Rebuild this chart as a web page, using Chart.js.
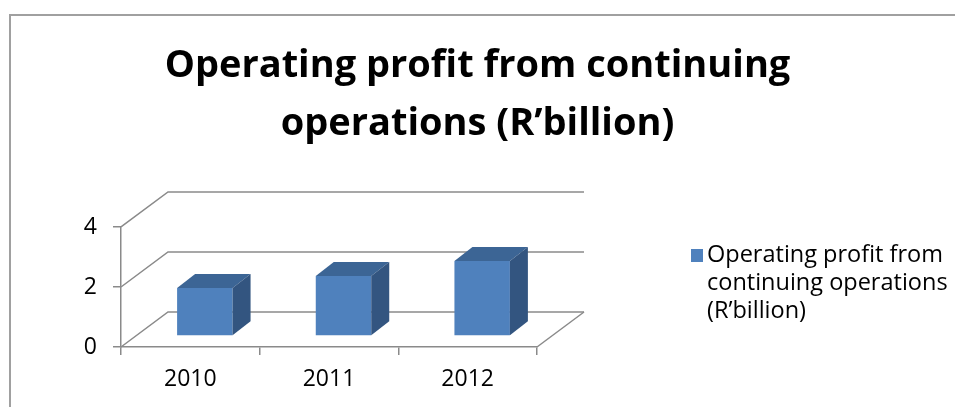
<!DOCTYPE html>
<html>
<head>
<meta charset="utf-8">
<script src="https://cdn.jsdelivr.net/npm/chart.js@4.4.0/dist/chart.umd.min.js"></script>
<style>
  html, body { margin: 0; padding: 0; background: #fff; }
  #profitChart { display: block; }
</style>
</head>
<body>
<canvas id="profitChart" width="955" height="407"></canvas>
<script>
var years = ['2010', '2011', '2012'];
var profit = [1.6, 2.0, 2.5];
var yTicks = [0, 2, 4];
var seriesLabel = 'Operating profit from continuing operations (R’billion)';
var titleLines = ['Operating profit from continuing', 'operations (R’billion)'];

var axisGrey = '#8a8a8a';
var barFront = '#4f81bd';
var barTop = '#3c6595';
var barSide = '#335580';

// oblique offsets for the 3-D look
var wallDepth = { x: 47, y: -35 };
var barShift = { x: 14.5, y: -11 };
var barDepth = { x: 18, y: -14 };

Chart.defaults.font.family = '"Open Sans"';

// outer frame
var framePlugin = {
  id: 'frame',
  beforeDraw: function (chart) {
    var ctx = chart.ctx;
    ctx.save();
    ctx.fillStyle = '#fff';
    ctx.fillRect(0, 0, chart.width, chart.height);
    ctx.strokeStyle = '#a0a0a0';
    ctx.lineWidth = 2;
    ctx.beginPath();
    ctx.moveTo(10, chart.height);
    ctx.lineTo(10, 15);
    ctx.lineTo(chart.width, 15);
    ctx.stroke();
    ctx.restore();
  }
};

// back wall, side wall and floor lines, then bars pushed back into the box
var boxPlugin = {
  id: 'box3d',
  beforeDatasetsDraw: function (chart) {
    var ctx = chart.ctx;
    var y = chart.scales.y;
    var left = chart.chartArea.left, right = chart.chartArea.right;
    ctx.save();
    ctx.strokeStyle = axisGrey;
    ctx.lineWidth = 1.5;
    yTicks.forEach(function (v) {
      var py = y.getPixelForValue(v);
      ctx.beginPath();
      ctx.moveTo(left, py);
      ctx.lineTo(left + wallDepth.x, py + wallDepth.y);
      ctx.lineTo(right + wallDepth.x, py + wallDepth.y);
      ctx.stroke();
    });
    var y0 = y.getPixelForValue(0);
    ctx.beginPath();
    ctx.moveTo(right, y0);
    ctx.lineTo(right + wallDepth.x, y0 + wallDepth.y);
    ctx.stroke();
    ctx.restore();

    ctx.save();
    ctx.translate(barShift.x, barShift.y);
  },
  afterDatasetsDraw: function (chart) {
    var ctx = chart.ctx;
    ctx.restore();
    ctx.save();
    chart.getDatasetMeta(0).data.forEach(function (bar) {
      var p = bar.getProps(['x', 'y', 'base', 'width'], true);
      var l = p.x - p.width / 2 + barShift.x;
      var r = p.x + p.width / 2 + barShift.x;
      var t = p.y + barShift.y;
      var b = p.base + barShift.y;
      ctx.fillStyle = barTop;
      ctx.beginPath();
      ctx.moveTo(l, t);
      ctx.lineTo(l + barDepth.x, t + barDepth.y);
      ctx.lineTo(r + barDepth.x, t + barDepth.y);
      ctx.lineTo(r, t);
      ctx.closePath();
      ctx.fill();
      ctx.fillStyle = barSide;
      ctx.beginPath();
      ctx.moveTo(r, t);
      ctx.lineTo(r + barDepth.x, t + barDepth.y);
      ctx.lineTo(r + barDepth.x, b + barDepth.y);
      ctx.lineTo(r, b);
      ctx.closePath();
      ctx.fill();
    });
    ctx.restore();
  }
};

// legend on the right, wrapped over several lines
var sideLegend = {
  id: 'sideLegend',
  afterDraw: function (chart) {
    var ctx = chart.ctx;
    var ds = chart.data.datasets[0];
    ctx.save();
    ctx.font = '23.5px "Open Sans"';
    var words = ds.label.split(' ');
    var lines = [], cur = '';
    words.forEach(function (w) {
      var test = cur ? cur + ' ' + w : w;
      if (ctx.measureText(test).width > 250 && cur) {
        lines.push(cur);
        cur = w;
      } else {
        cur = test;
      }
    });
    lines.push(cur);
    ctx.fillStyle = ds.backgroundColor;
    ctx.fillRect(691, 249, 12, 13);
    ctx.fillStyle = '#000';
    ctx.textBaseline = 'alphabetic';
    lines.forEach(function (line, i) {
      ctx.fillText(line, 707, 262 + i * 28);
    });
    ctx.restore();
  }
};

new Chart(document.getElementById('profitChart'), {
  type: 'bar',
  data: {
    labels: years,
    datasets: [{
      label: seriesLabel,
      data: profit,
      backgroundColor: barFront,
      borderWidth: 0,
      barPercentage: 0.4,
      categoryPercentage: 1.0,
      clip: false
    }]
  },
  options: {
    responsive: false,
    animation: false,
    layout: { padding: 0 },
    plugins: {
      legend: { display: false },
      tooltip: { enabled: false },
      title: {
        display: true,
        text: titleLines,
        color: '#000',
        font: { size: 38, weight: 'bold', lineHeight: 1.526 },
        padding: { top: 37, bottom: 74 }
      }
    },
    scales: {
      x: {
        afterFit: function (scale) { scale.height = 60; },
        grid: {
          drawOnChartArea: false,
          tickLength: 8,
          color: axisGrey,
          lineWidth: 1.5
        },
        border: { color: axisGrey, width: 1.5 },
        ticks: { color: '#000', font: { size: 23 }, padding: 11 }
      },
      y: {
        min: 0,
        max: 4,
        afterFit: function (scale) { scale.width = 121; },
        afterBuildTicks: function (scale) {
          scale.ticks = yTicks.map(function (v) { return { value: v }; });
        },
        grid: {
          drawOnChartArea: false,
          tickLength: 8,
          color: axisGrey,
          lineWidth: 1.5
        },
        border: { color: axisGrey, width: 1.5 },
        ticks: { color: '#000', font: { size: 23 }, padding: 16 }
      },
      // empty axis that keeps room on the right for the walls and legend
      spacer: {
        position: 'right',
        afterFit: function (scale) { scale.width = 418; },
        grid: { display: false },
        border: { display: false },
        ticks: { display: false }
      }
    }
  },
  plugins: [framePlugin, boxPlugin, sideLegend]
});
</script>
</body>
</html>
